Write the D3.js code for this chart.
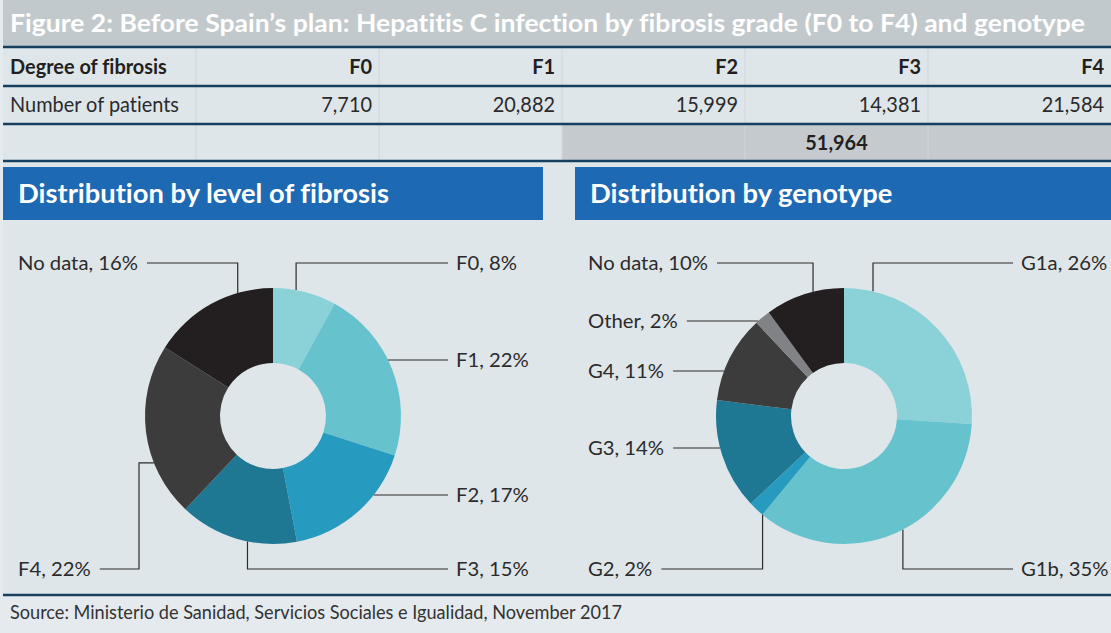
<!DOCTYPE html>
<html>
<head>
<meta charset="utf-8">
<script src="https://cdn.jsdelivr.net/npm/d3@7"></script>
<style>
  body { margin: 0; background: #e4eaed; }
  svg { display: block; }
  text { font-family: Lato, "Noto Sans", sans-serif; font-variant-ligatures: none; }
</style>
</head>
<body>
<svg id="chart"></svg>
<script>
// table data
const grades = ["F0", "F1", "F2", "F3", "F4"];
const patients = [7710, 20882, 15999, 14381, 21584];
const patientsF2toF4 = 51964;

// donut data (percent)
const fibrosisLabels = ["F0", "F1", "F2", "F3", "F4", "No data"];
const fibrosisShares = [8, 22, 17, 15, 22, 16];
const genotypeLabels = ["G1a", "G1b", "G2", "G3", "G4", "Other", "No data"];
const genotypeShares = [26, 35, 2, 14, 11, 2, 10];

const fibrosisColors = ["#8ad2d7", "#66c3cd", "#279bbf", "#1f7893", "#3d3c3c", "#231f20"];
const genotypeColors = ["#8ad2d7", "#66c3cd", "#279bbf", "#1f7893", "#3d3c3c", "#818285", "#231f20"];

// leader layout: dy = label offset from donut centre, deg = anchor angle on the ring
const fibrosisLeaders = [
  { side: "right", dy: -153, deg: 10.4 },
  { side: "right", dy: -56 },
  { side: "right", dy: 79 },
  { side: "right", dy: 153, deg: 191.5 },
  { side: "left", dy: 153, deg: 248.5, knee: -134 },
  { side: "left", dy: -153, deg: 344 }
];
const genotypeLeaders = [
  { side: "right", dy: -153, deg: 13.1 },
  { side: "right", dy: 153, deg: 152.6 },
  { side: "left", dy: 153, deg: 219.5 },
  { side: "left", dy: 32 },
  { side: "left", dy: -45 },
  { side: "left", dy: -95 },
  { side: "left", dy: -153, deg: 346 }
];

const W = 1111, H = 633;
const navy = "#17405f", ink = "#231f20";
const svg = d3.select("#chart").attr("width", W).attr("height", H);

// the original face is narrower than Lato: measure a reference string,
// then squeeze every text of that group horizontally by the same factor
function squeezeFactor(str, fs, weight, width) {
  const t = svg.append("text").attr("font-size", fs).attr("font-weight", weight).text(str);
  const k = width / t.node().getComputedTextLength();
  t.remove();
  return k;
}
function squeeze(sel, k) {
  sel.each(function () {
    const w = this.getComputedTextLength();
    d3.select(this).attr("textLength", w * k).attr("lengthAdjust", "spacingAndGlyphs");
  });
  return sel;
}

svg.append("rect").attr("x", 3).attr("y", 0).attr("width", W - 3).attr("height", 596).attr("fill", "#dfe6e9");

// title bar
svg.append("rect").attr("x", 3).attr("width", W - 3).attr("height", 47).attr("fill", "#c2c9cc");
const titleText = "Figure 2: Before Spain’s plan: Hepatitis C infection by fibrosis grade (F0 to F4) and genotype";
const kTitle = squeezeFactor(titleText, 25.5, 700, 1075);
squeeze(svg.append("text").attr("x", 10).attr("y", 32)
  .attr("font-size", 25.5).attr("font-weight", 700).attr("fill", "#fff")
  .text(titleText), kTitle);

// table
const col = d3.scaleBand().domain(grades).range([196, W]);
const rowY = [47, 86, 124, 161];
const tableFs = 20.5;
const kTable = squeezeFactor("Number of patients", tableFs, 400, 169);

svg.append("rect").attr("x", 562).attr("y", 124).attr("width", W - 562).attr("height", 37).attr("fill", "#c4cacd");

svg.append("g").selectAll("line").data(grades).join("line")
  .attr("x1", d => col(d)).attr("x2", d => col(d))
  .attr("y1", 47).attr("y2", 161)
  .attr("stroke", "#cdd7dc").attr("stroke-width", 1);

svg.append("g").selectAll("line").data(rowY).join("line")
  .attr("x1", 3).attr("x2", W).attr("y1", d => d).attr("y2", d => d)
  .attr("stroke", navy).attr("stroke-width", 2.5);

squeeze(svg.append("text").attr("x", 10).attr("y", 111.5)
  .attr("font-size", tableFs).attr("fill", "#2b2b2b").text("Number of patients"), kTable);

squeeze(svg.append("text").attr("x", 10).attr("y", 73.5)
  .attr("font-size", tableFs).attr("font-weight", 700).attr("fill", ink)
  .text("Degree of fibrosis"), kTable);

squeeze(svg.append("g").selectAll("text").data(grades).join("text")
  .attr("x", d => col(d) + col.bandwidth() - 7).attr("y", 73.5)
  .attr("text-anchor", "end").attr("font-size", tableFs).attr("font-weight", 700).attr("fill", ink)
  .text(d => d), kTable);

squeeze(svg.append("g").selectAll("text").data(patients).join("text")
  .attr("x", (d, i) => col(grades[i]) + col.bandwidth() - 7).attr("y", 111.5)
  .attr("text-anchor", "end").attr("font-size", tableFs).attr("fill", "#2b2b2b")
  .text(d => d3.format(",")(d)), kTable);

squeeze(svg.append("text").attr("x", (562 + W) / 2).attr("y", 149.5)
  .attr("text-anchor", "middle").attr("font-size", tableFs).attr("font-weight", 700).attr("fill", ink)
  .text(d3.format(",")(patientsF2toF4)), kTable);

// donut panels
const outerR = 128, innerR = 53;
const pie = d3.pie().sort(null).value(d => d);
const arc = d3.arc().innerRadius(innerR).outerRadius(outerR);
const labelFs = 19.5;
const kLabel = squeezeFactor("No data, 16%", labelFs, 400, 120);
const headFs = 26;
const kHead = squeezeFactor("Distribution by level of fibrosis", headFs, 700, 371);

function panel(x0, x1, heading, cx, labels, shares, colors, leaders, leftX, rightX) {
  const cy = 416;
  svg.append("rect").attr("x", x0).attr("y", 167).attr("width", x1 - x0).attr("height", 53).attr("fill", "#1e69b4");
  squeeze(svg.append("text").attr("x", x0 + 15).attr("y", 203)
    .attr("font-size", headFs).attr("font-weight", 700).attr("fill", "#fff").text(heading), kHead);

  const g = svg.append("g").attr("transform", `translate(${cx},${cy})`);
  g.selectAll("path").data(pie(shares)).join("path")
    .attr("d", arc).attr("fill", (d, i) => colors[i]);

  labels.forEach((name, i) => {
    const L = leaders[i];
    const ly = cy + L.dy;
    const t = svg.append("text")
      .attr("y", ly + 7).attr("fill", "#2b2b2b")
      .attr("font-size", labelFs)
      .text(`${name}, ${shares[i]}%`);
    squeeze(t, kLabel);
    const tw = +t.attr("textLength");
    let lineEnd;
    if (L.side === "right") { t.attr("x", rightX); lineEnd = rightX - 8; }
    else { t.attr("x", leftX); lineEnd = leftX + tw + 9; }

    let pts;
    if (L.deg === undefined) {
      const dx = Math.sqrt(outerR * outerR - L.dy * L.dy) * (L.side === "right" ? 1 : -1);
      pts = [[cx + dx, ly], [lineEnd, ly]];
    } else {
      const a = L.deg * Math.PI / 180;
      const px = cx + outerR * Math.sin(a), py = cy - outerR * Math.cos(a);
      if (L.knee !== undefined) {
        pts = [[px, py], [cx + L.knee, py], [cx + L.knee, ly], [lineEnd, ly]];
      } else {
        pts = [[px, py], [px, ly], [lineEnd, ly]];
      }
    }
    svg.append("path").attr("d", d3.line()(pts))
      .attr("fill", "none").attr("stroke", "#2b2b2b").attr("stroke-width", 1.2);
  });
}

panel(3, 543, "Distribution by level of fibrosis", 273,
  fibrosisLabels, fibrosisShares, fibrosisColors, fibrosisLeaders, 18, 456);
panel(575, W, "Distribution by genotype", 844,
  genotypeLabels, genotypeShares, genotypeColors, genotypeLeaders, 588, 1021);

// footer
svg.append("line").attr("x1", 3).attr("x2", W).attr("y1", 595).attr("y2", 595)
  .attr("stroke", navy).attr("stroke-width", 2.5);
const srcText = "Source: Ministerio de Sanidad, Servicios Sociales e Igualidad, November 2017";
squeeze(svg.append("text").attr("x", 10).attr("y", 619)
  .attr("font-size", 18.5).attr("fill", "#333")
  .text(srcText), squeezeFactor(srcText, 18.5, 400, 612));
</script>
</body>
</html>
